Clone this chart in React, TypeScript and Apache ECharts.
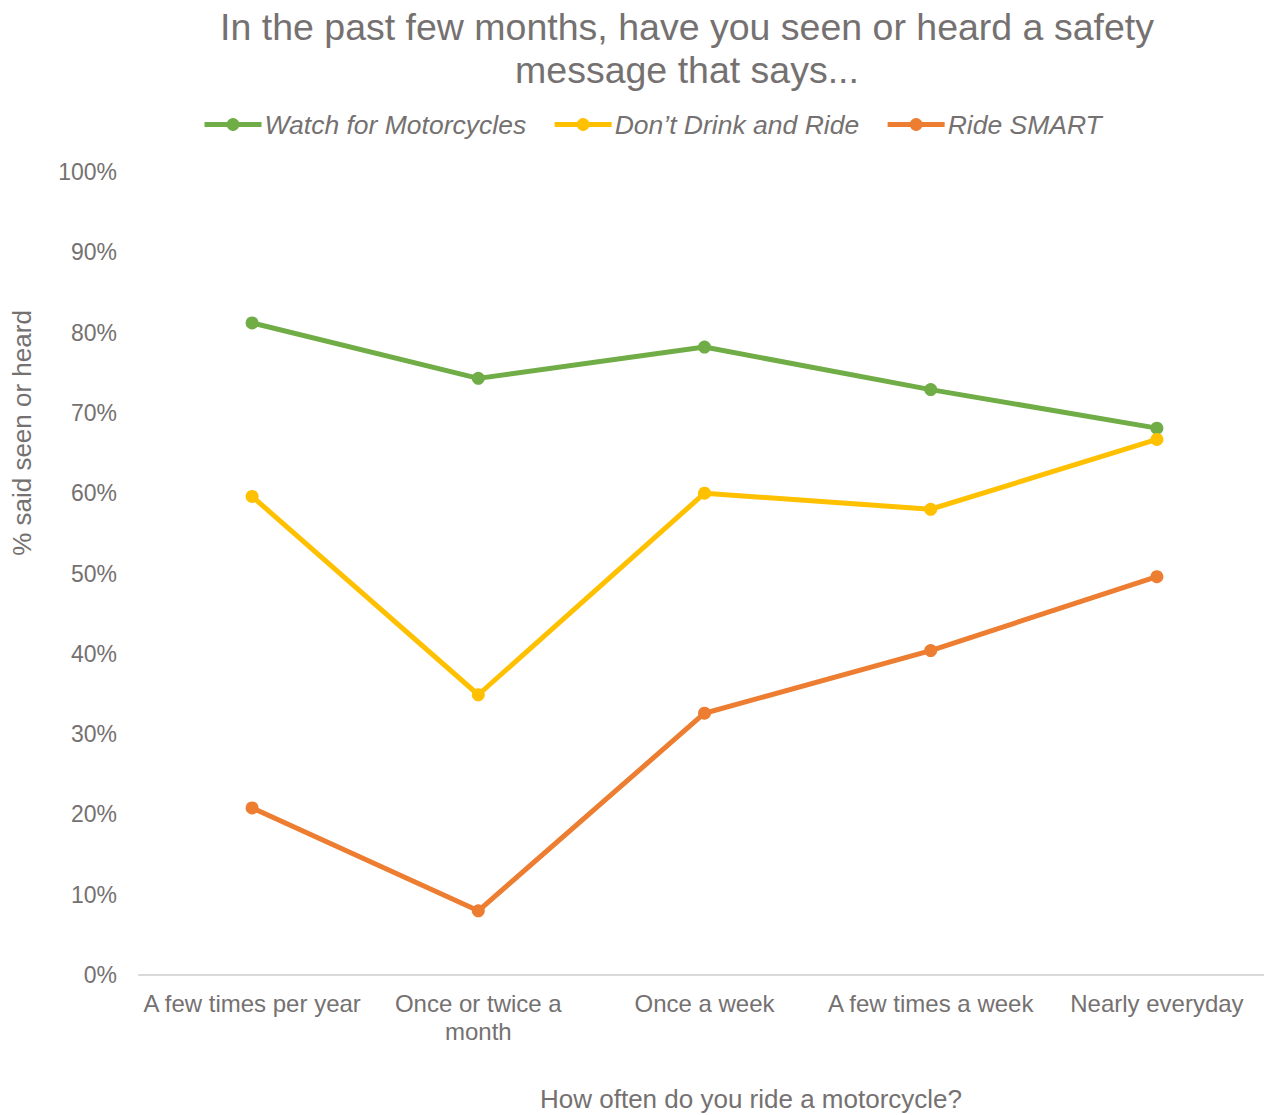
import React, { useEffect, useRef } from "react";
import * as echarts from "echarts";

const categories = [
  "A few times per year",
  "Once or twice a month",
  "Once a week",
  "A few times a week",
  "Nearly everyday",
];
const watchForMotorcycles = [81.2, 74.3, 78.2, 72.9, 68.1];
const dontDrinkAndRide = [59.6, 34.9, 60.0, 58.0, 66.7];
const rideSmart = [20.8, 8.0, 32.6, 40.4, 49.6];
const seriesNames = ["Watch for Motorcycles", "Don\u2019t Drink and Ride", "Ride SMART"];
const colors = ["#70AD47", "#FFC000", "#ED7D31"];

const titleText = "In the past few months, have you seen or heard a safety\nmessage that says...";
const yAxisName = "% said seen or heard";
const xAxisName = "How often do you ride a motorcycle?";

const gray = "#757171";
const font = "'Liberation Sans', Arial, sans-serif";

function wrap(v: string): string {
  const words = v.split(" ");
  const lines: string[] = [];
  let cur = "";
  for (const w of words) {
    const next = cur ? cur + " " + w : w;
    if (next.length > 20 && cur) {
      lines.push(cur);
      cur = w;
    } else cur = next;
  }
  if (cur) lines.push(cur);
  return lines.join("\n");
}

export default function App() {
  const ref = useRef<HTMLDivElement>(null);
  useEffect(() => {
    document.body.style.margin = "0";
    const chart = echarts.init(ref.current!, undefined, { renderer: "svg" });
    const data = [watchForMotorcycles, dontDrinkAndRide, rideSmart];
    chart.setOption({
      animation: false,
      backgroundColor: "#ffffff",
      textStyle: { fontFamily: font },
      title: {
        text: titleText,
        left: 682,
        top: 0,
        textAlign: "center",
        textStyle: {
          fontFamily: font,
          fontSize: 37.5,
          fontWeight: "normal",
          color: gray,
          lineHeight: 43,
        },
      },
      legend: {
        left: 197,
        top: 106,
        itemWidth: 57,
        itemHeight: 16,
        itemGap: 26,
        lineStyle: { width: 5 },
        textStyle: {
          fontFamily: font,
          fontSize: 26.5,
          fontStyle: "italic",
          color: gray,
          padding: [0, 0, 0, -2],
        },
        data: seriesNames,
      },
      grid: { left: 139, top: 172, width: 1131, height: 803, containLabel: false, outerBoundsMode: "none" },
      xAxis: {
        type: "category",
        data: categories,
        boundaryGap: true,
        axisLine: { lineStyle: { color: "#D9D9D9", width: 2 } },
        axisTick: { show: false },
        axisLabel: {
          color: gray,
          fontFamily: font,
          fontSize: 24,
          lineHeight: 28,
          margin: 14,
          interval: 0,
          formatter: (v: string) => wrap(v),
        },
        splitLine: { show: false },
      },
      yAxis: {
        type: "value",
        min: 0,
        max: 100,
        interval: 10,
        axisLine: { show: false },
        axisTick: { show: false },
        splitLine: { show: false },
        axisLabel: {
          color: gray,
          fontFamily: font,
          fontSize: 23,
          margin: 22,
          formatter: (v: number) => v + "%",
        },
      },
      graphic: [
        {
          type: "text",
          x: 22,
          y: 433,
          rotation: Math.PI / 2,
          style: {
            text: yAxisName,
            fontFamily: font,
            fontSize: 26,
            fill: gray,
            align: "center",
            verticalAlign: "middle",
          },
        },
        {
          type: "text",
          x: 751,
          y: 1099,
          style: {
            text: xAxisName,
            fontFamily: font,
            fontSize: 26,
            fill: gray,
            align: "center",
            verticalAlign: "middle",
          },
        },
      ],
      series: seriesNames.map((name, i) => ({
        name,
        type: "line",
        data: data[i],
        color: colors[i],
        symbol: "circle",
        symbolSize: 13,
        lineStyle: { width: 5, color: colors[i] },
        itemStyle: { color: colors[i] },
      })),
    });
    return () => chart.dispose();
  }, []);
  return <div ref={ref} style={{ width: 1264, height: 1115 }} />;
}
